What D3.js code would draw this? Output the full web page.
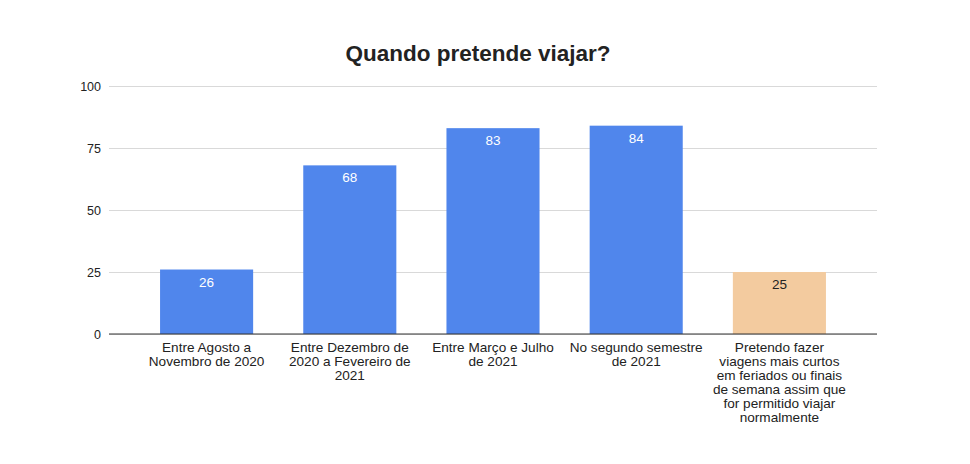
<!DOCTYPE html>
<html>
<head>
<meta charset="utf-8">
<script src="https://cdn.jsdelivr.net/npm/d3@7"></script>
<style>
  body { margin: 0; background: #fff; }
  text { font-family: "Liberation Sans", Arial, sans-serif; }
</style>
</head>
<body>
<svg width="970" height="464"></svg>
<script>
// data
const categories = [
    ["Entre Agosto a", "Novembro de 2020"],
    ["Entre Dezembro de", "2020 a Fevereiro de", "2021"],
    ["Entre Março e Julho", "de 2021"],
    ["No segundo semestre", "de 2021"],
    ["Pretendo fazer", "viagens mais curtos", "em feriados ou finais", "de semana assim que", "for permitido viajar", "normalmente"]
];
const values = [26, 68, 83, 84, 25];
const barColors = ["#5086ec", "#5086ec", "#5086ec", "#5086ec", "#f3cb9f"];
const labelColors = ["#fff", "#fff", "#fff", "#fff", "#222"];
const yTicks = [0, 25, 50, 75, 100];

const svg = d3.select("svg");
const gridLeft = 109, gridRight = 877;
const plotTop = 86, plotBottom = 334;

const x = d3.scaleBand()
    .domain(d3.range(values.length))
    .range([135, 851])
    .paddingInner(0.35)
    .paddingOuter(0.175);
const y = d3.scaleLinear().domain([0, 100]).range([plotBottom, plotTop]);

// title
svg.append("text")
    .attr("x", 478).attr("y", 61)
    .attr("text-anchor", "middle")
    .attr("font-size", 22.5).attr("font-weight", "bold")
    .attr("fill", "#222")
    .text("Quando pretende viajar?");

// gridlines + y labels
const yAxis = svg.append("g")
    .attr("transform", `translate(${gridLeft},0)`)
    .call(d3.axisLeft(y).tickValues(yTicks).tickSize(-(gridRight - gridLeft)).tickPadding(8));
yAxis.select(".domain").remove();
yAxis.selectAll(".tick line").attr("stroke", "#d9d9d9");
yAxis.selectAll(".tick text").attr("font-size", 12.5).attr("fill", "#222")
    .style("font-family", "Liberation Sans, Arial, sans-serif");

// bars
svg.selectAll(".bar")
    .data(values)
    .join("rect")
    .attr("class", "bar")
    .attr("x", (d, i) => x(i))
    .attr("y", d => y(d))
    .attr("width", x.bandwidth())
    .attr("height", d => plotBottom - y(d))
    .attr("fill", (d, i) => barColors[i]);

// value labels
svg.selectAll(".val")
    .data(values)
    .join("text")
    .attr("class", "val")
    .attr("x", (d, i) => x(i) + x.bandwidth() / 2)
    .attr("y", d => y(d) + 17)
    .attr("text-anchor", "middle")
    .attr("font-size", 13.5)
    .attr("fill", (d, i) => labelColors[i])
    .text(d => d);

// baseline
svg.append("line")
    .attr("x1", gridLeft).attr("x2", gridRight)
    .attr("y1", plotBottom).attr("y2", plotBottom)
    .attr("stroke", "#333").attr("stroke-width", 1);

// category labels
const cat = svg.selectAll(".cat")
    .data(categories)
    .join("text")
    .attr("class", "cat")
    .attr("text-anchor", "middle")
    .attr("font-size", 13.6)
    .attr("fill", "#222");
cat.selectAll("tspan")
    .data((d, i) => d.map(t => ({ t, i })))
    .join("tspan")
    .attr("x", d => x(d.i) + x.bandwidth() / 2)
    .attr("y", (d, j) => 352 + j * 14)
    .text(d => d.t);
</script>
</body>
</html>
